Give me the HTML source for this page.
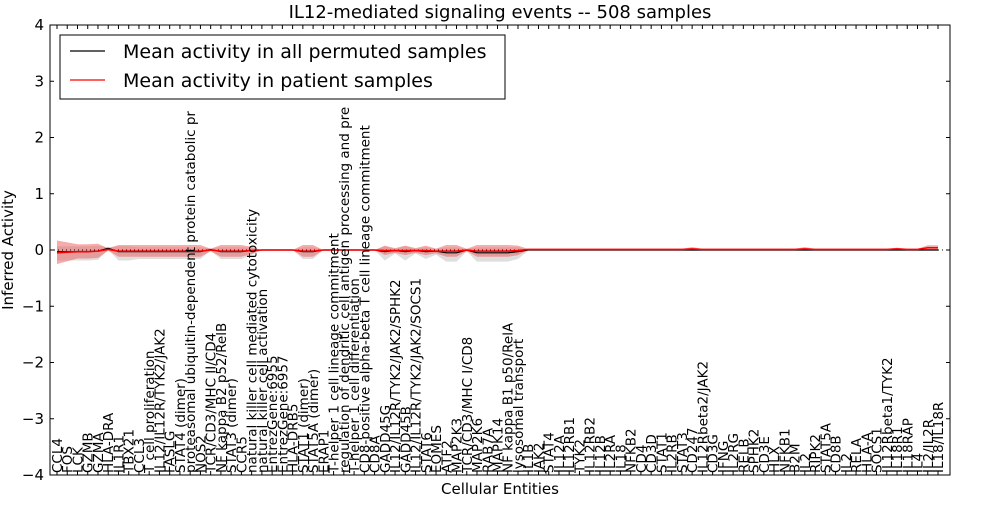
<!DOCTYPE html>
<html><head><meta charset="utf-8"><style>
body{margin:0;background:#fff;width:1000px;height:500px;overflow:hidden;font-family:"Liberation Sans",sans-serif}
svg text{font-family:"DejaVu Sans","Liberation Sans",sans-serif}
</style></head><body>
<svg id="chart" width="1000" height="500" xmlns="http://www.w3.org/2000/svg"></svg>
<script>
const categories=["CCL4","FOS","LCK","GZMB","GZMA","HLA-DRA","IL1R1","TBX21","CCL3","T cell proliferation","IL12/IL12R/TYK2/JAK2","FASLG","STAT4 (dimer)","proteasomal ubiquitin-dependent protein catabolic pr","NOS2","TCR/CD3/MHC II/CD4","NF kappa B2 p52/RelB","STAT3 (dimer)","CCR5","natural killer cell mediated cytotoxicity","natural killer cell activation","EntrezGene:6955","EntrezGene:6957","HLA-DRB5","STAT1 (dimer)","STAT5A (dimer)","ERAP1","T-helper 1 cell lineage commitment","regulation of dendritic cell antigen processing and pre","T-helper 1 cell differentiation","CD8-positive alpha-beta T cell lineage commitment","CD8A","GADD45G","IL12/IL12R/TYK2/JAK2/SPHK2","GADD45B","IL12/IL12R/TYK2/JAK2/SOCS1","STAT6","EOMES","ATF2","MAP2K3","TCR/CD3/MHC I/CD8","MAP2K6","RAB7A","MAPK14","NF kappa B1 p50/RelA","lysosomal transport","IL1B","JAK2","STAT4","IL12A","IL12RB1","TYK2","IL12RB2","IL12B","IL2RA","IL18","NFKB2","CD4","CD3D","STAT1","IL2RB","STAT3","CD247","IL12Rbeta2/JAK2","CD3G","IFNG","IL2RG","RELB","SPHK2","CD3E","HLX","NFKB1","B2M","IL2","RIPK2","STAT5A","CD8B","IL2","RELA","HLA-A","SOCS1","IL12Rbeta1/TYK2","IL18R1","IL18RAP","IL4","IL2/IL2R","IL18/IL18R"];
const patientMean=[-0.05,-0.04,-0.03,-0.03,-0.02,0.01,-0.02,-0.02,-0.02,-0.02,-0.02,-0.02,-0.02,-0.02,-0.02,0.0,-0.02,-0.02,-0.02,-0.01,0,0,0,0,-0.02,-0.02,0,0,0,0,0,0,-0.01,-0.01,-0.01,-0.01,-0.01,-0.02,-0.02,-0.02,0,-0.02,-0.02,-0.02,-0.02,-0.01,0.01,0.01,0.01,0.01,0.01,0.01,0.01,0.01,0.01,0.01,0.01,0.01,0.01,0.01,0.01,0.01,0.02,0.01,0.01,0.01,0.01,0.01,0.01,0.01,0.01,0.01,0.01,0.02,0.01,0.01,0.01,0.01,0.01,0.01,0.01,0.01,0.02,0.01,0.01,0.04,0.04];
const patientSpread=[0.2,0.16,0.12,0.12,0.12,0.02,0.1,0.1,0.1,0.1,0.1,0.1,0.1,0.1,0.1,0.02,0.1,0.1,0.1,0.06,0,0,0,0,0.1,0.1,0,0,0,0,0,0,0.08,0.04,0.08,0.04,0.08,0.04,0.1,0.1,0.02,0.1,0.1,0.1,0.1,0.08,0.01,0.01,0.01,0.01,0.01,0.01,0.01,0.01,0.01,0.01,0.01,0.01,0.01,0.01,0.01,0.01,0.03,0.01,0.01,0.01,0.01,0.01,0.01,0.01,0.01,0.01,0.01,0.03,0.01,0.01,0.01,0.01,0.01,0.01,0.01,0.01,0.02,0.01,0.01,0.04,0.04];
const permutedMean=[-0.03,-0.03,-0.03,-0.03,-0.02,0.03,-0.03,-0.03,-0.03,-0.03,-0.03,-0.03,-0.03,-0.03,-0.03,0.01,-0.03,-0.03,-0.03,-0.01,0,0,0,0,-0.03,-0.03,0,0,0,0,0,0,-0.03,-0.01,-0.03,-0.01,-0.03,-0.02,-0.05,-0.05,0,-0.05,-0.05,-0.05,-0.05,-0.03,0,0,0,0,0,0,0,0,0,0,0,0,0,0,0,0,0,0,0,0,0,0,0,0,0,0,0,0,0,0,0,0,0,0,0,0,0,0,0,0,0];
const permutedSpread=[0.12,0.12,0.12,0.12,0.12,0.02,0.12,0.12,0.1,0.1,0.1,0.1,0.1,0.1,0.1,0.02,0.1,0.1,0.1,0.06,0,0,0,0,0.1,0.1,0,0,0,0,0,0,0.12,0.04,0.12,0.04,0.1,0.05,0.12,0.12,0.02,0.12,0.12,0.12,0.12,0.1,0.01,0.01,0.01,0.01,0.01,0.01,0.01,0.01,0.01,0.01,0.01,0.01,0.01,0.01,0.01,0.01,0.01,0.01,0.01,0.01,0.01,0.01,0.01,0.01,0.01,0.01,0.01,0.01,0.01,0.01,0.01,0.01,0.01,0.01,0.01,0.01,0.01,0.01,0.01,0.01,0.01];
const yTicks=[-4,-3,-2,-1,0,1,2,3,4];

const NS="http://www.w3.org/2000/svg";
const svg=document.getElementById('chart');
const L=50,R=950,T=25,B=475;
const n=categories.length;
const x=i=>57+i*(881/(n-1));
const y=v=>250-v*(B-T)/8;
function mk(tag,attrs,parent){const e=document.createElementNS(NS,tag);for(const k in attrs)e.setAttribute(k,attrs[k]);(parent||svg).appendChild(e);return e;}
function band(mean,spread,fill,name,up,down){
  let d="M"+categories.map((_,i)=>x(i)+","+y(mean[i]+spread[i]*up)).join("L");
  for(let i=n-1;i>=0;i--)d+="L"+x(i)+","+y(mean[i]-spread[i]*down);
  const p=mk('path',{d:d+"Z",fill:fill,stroke:'none'});
  
  
}
function line(mean,color,name,w){
  const p=mk('path',{d:"M"+categories.map((_,i)=>x(i)+","+y(mean[i])).join("L"),fill:'none',stroke:color,'stroke-width':w});
  
  
}
band(permutedMean,permutedSpread,'rgba(200,200,200,0.6)','permuted-band',0.8,1.3);
band(patientMean,patientSpread,'rgba(240,90,90,0.5)','patient-band',1.1,1.0);
const zl=mk('line',{x1:L,x2:R,y1:y(0),y2:y(0),stroke:'#000','stroke-dasharray':'1,3','stroke-width':1});


line(permutedMean,'#000','permuted-mean-line',1.2);
line(patientMean,'#f00','patient-mean-line',1.6);
const fr=mk('rect',{x:L,y:T,width:R-L,height:B-T,fill:'none',stroke:'#000','stroke-width':1});


yTicks.forEach(v=>{
  mk('line',{x1:L,x2:L+4,y1:y(v),y2:y(v),stroke:'#000'});
  mk('line',{x1:R-4,x2:R,y1:y(v),y2:y(v),stroke:'#000'});
  const t=mk('text',{x:L-6,y:y(v)+5,'text-anchor':'end','font-size':15});
  t.textContent=(v<0?'\u2212'+(-v):v);
  
  
});
categories.forEach((c,i)=>{
  mk('line',{x1:x(i),x2:x(i),y1:B,y2:B-4,stroke:'#000'});
  mk('line',{x1:x(i),x2:x(i),y1:T,y2:T+4,stroke:'#000'});
  const t=mk('text',{x:0,y:0,'font-size':13.5,transform:`translate(${x(i)+5},${B-2}) rotate(-90)`});
  t.textContent=c;
  
  
});
const title=mk('text',{x:500,y:18,'text-anchor':'middle','font-size':18});
title.textContent="IL12-mediated signaling events -- 508 samples";


const yl=mk('text',{x:0,y:0,'text-anchor':'middle','font-size':15,transform:'translate(13,250) rotate(-90)'});
yl.textContent="Inferred Activity";


const xl=mk('text',{x:500,y:494,'text-anchor':'middle','font-size':15});
xl.textContent="Cellular Entities";


const lg=mk('g',{});


mk('rect',{x:60,y:35,width:445,height:64,fill:'#fff',stroke:'#000'},lg);
[['#000','Mean activity in all permuted samples',51],['#f00','Mean activity in patient samples',80]].forEach(([c,s,yy],k)=>{
  const g=mk('g',{},lg);
  
  
  mk('line',{x1:70,x2:105,y1:yy,y2:yy,stroke:c,'stroke-width':1.2},g);
  const t=mk('text',{x:123,y:yy+7,'font-size':19},g);t.textContent=s;
});
</script>
</body></html>
